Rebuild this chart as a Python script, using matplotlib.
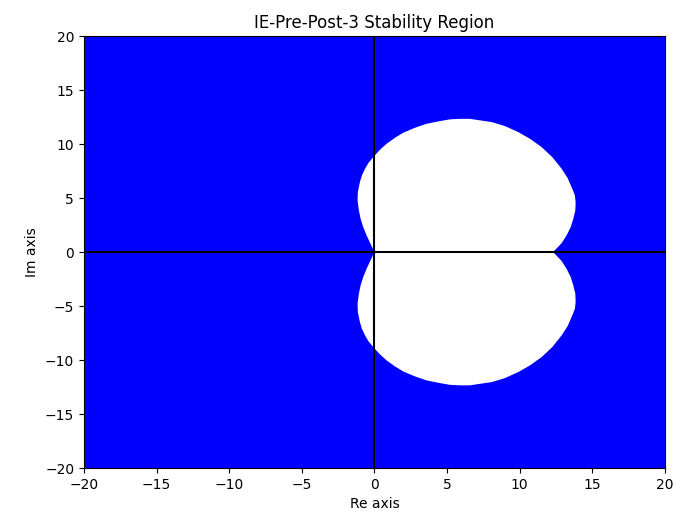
import numpy as np
import matplotlib
matplotlib.use('Agg')
import matplotlib.pyplot as plt

# boundary of the unstable (white) region, upper half
re_upper = [0.0, -0.54, -0.77, -0.95, -1.07, -1.16, -1.14, -1.00, -0.86, -0.65,
            -0.40, -0.08, 0.38, 0.84, 1.41, 1.98, 2.79, 3.59, 4.39, 5.20,
            5.89, 6.57, 7.15, 8.07, 8.98, 9.90, 10.71, 11.51, 12.24, 12.89,
            13.30, 13.62, 13.80, 13.85, 13.83, 13.69, 13.51, 13.23, 12.89, 12.30]
im_upper = [0.0, 1.55, 2.31, 3.08, 3.86, 4.79, 5.56, 6.48, 7.10, 7.71,
            8.27, 8.80, 9.47, 10.03, 10.58, 11.05, 11.51, 11.88, 12.10, 12.29,
            12.34, 12.34, 12.22, 12.04, 11.67, 11.11, 10.49, 9.72, 8.80, 7.71,
            6.85, 5.86, 5.25, 4.63, 3.86, 3.08, 2.31, 1.55, 0.83, 0.0]

ticks = [-20, -15, -10, -5, 0, 5, 10, 15, 20]

# region is symmetric about the real axis
re_b = np.concatenate([re_upper, re_upper[::-1]])
im_b = np.concatenate([im_upper, -np.array(im_upper[::-1])])

fig = plt.figure(figsize=(6.82, 5.23), dpi=100)
ax = fig.add_axes([0.123, 0.105, 0.852, 0.826])
ax.set_facecolor('blue')
ax.fill(re_b, im_b, color='white', lw=0)
ax.axhline(0, color='black', lw=1.5)
ax.axvline(0, color='black', lw=1.5)

ax.set_xlim(-20, 20)
ax.set_ylim(-20, 20)
ax.set_xticks(ticks)
ax.set_yticks(ticks)
ax.set_xlabel('Re axis')
ax.set_ylabel('Im axis')
ax.set_title('IE-Pre-Post-3 Stability Region')

fig.savefig('out.png', dpi=100)
